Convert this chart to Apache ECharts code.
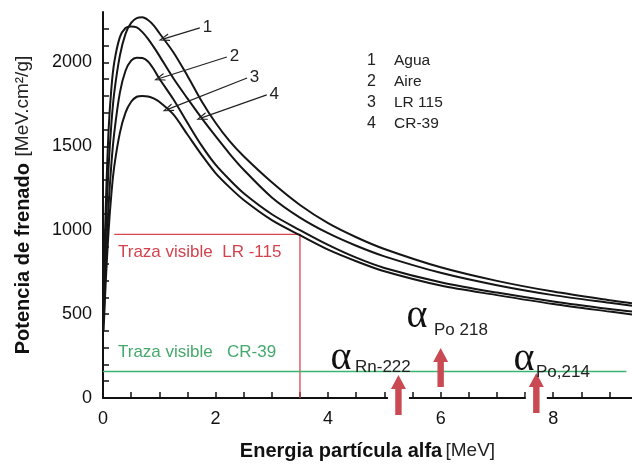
<!DOCTYPE html>
<html><head><meta charset="utf-8">
<script src="https://cdn.jsdelivr.net/npm/echarts@6/dist/echarts.min.js"></script>
<style>html,body{margin:0;padding:0;background:#fff}#c{width:632px;height:466px}</style>
</head><body><div id="c"></div>
<script>
// Energy of alpha particle [MeV]
const energy = [0.01,0.05,0.1,0.15,0.2,0.3,0.4,0.5,0.6,0.7,0.8,0.9,1.0,1.25,1.5,1.75,2.0,2.25,2.5,3.0,3.5,4.0,4.5,5.0,6.0,7.0,8.0,9.0,9.4];
// Stopping power [MeV.cm2/g]
const agua  = [550,1000,1380,1640,1820,2040,2170,2235,2264,2268,2252,2220,2175,2060,1920,1770,1640,1530,1440,1285,1150,1042,958,888,779,698,634,583,565];
const aire  = [450,800,1150,1400,1580,1820,1950,2010,2028,2026,2005,1960,1904,1780,1640,1505,1390,1300,1220,1095,1000,912,836,775,690,628,575,530,515];
const lr115 = [400,700,1000,1220,1380,1580,1700,1765,1795,1800,1797,1785,1765,1690,1570,1450,1340,1255,1180,1060,970,884,815,755,670,613,560,515,498];
const cr39  = [650,1150,1600,1850,2000,2150,2205,2214,2208,2180,2140,2092,2040,1905,1785,1669,1560,1455,1360,1195,1075,982,907,844,746,672,613,567,550];
const legendNames = ['Agua','Aire','LR 115','CR-39'];
const curves = [agua, aire, lr115, cr39];
// pointer arrows (from label to curve), data coords
const pointerFrom = [[1.72,2205],[2.20,2032],[2.56,1907],[2.91,1806]];
const pointerTo   = [[1.08,2140],[1.0,1904],[1.15,1720],[1.75,1669]];
// visible-track thresholds
const lr115Track = [[0.2,975],[3.5,975],[3.5,0]];
const cr39Track  = [[0,158],[9.3,158]];
// alpha emitters
const alphaEnergies = [5.25, 6.0, 7.7];
const alphaNames = ['Rn-222','Po 218','Po,214'];

const FONT = '"Liberation Sans", Arial, sans-serif';
const arrowSpan = [[17,-23],[-11,-50],[15,-25]];
const chevron = 'path://M0,10 L5,0 L10,10 L8.4,10 L5,2.8 L1.6,10 Z';

const chart = echarts.init(document.getElementById('c'), null, {renderer:'canvas'});
const series = curves.map((d,i)=>({
  name: legendNames[i], type:'line', data: energy.map((e,j)=>[e,d[j]]),
  smooth:0.3, symbol:'none', z:3,
  lineStyle:{color:'#151515', width:2}, itemStyle:{color:'#151515'},
  markLine:{silent:true, animation:false, symbol:['none', chevron], symbolSize:[8,11],
    lineStyle:{color:'#222', width:1.2, type:'solid'},
    label:{show:true, position:'start', formatter:String(i+1), fontSize:17, color:'#222', fontFamily:FONT, distance:3},
    data:[[{coord:pointerFrom[i]},{coord:pointerTo[i]}]]}
}));
series.push({type:'line', data:lr115Track, symbol:'none', z:2, lineStyle:{color:'#d64550', width:1.3}, silent:true});
series.push({type:'line', data:cr39Track, symbol:'none', z:2, lineStyle:{color:'#3cb371', width:1.3}, silent:true});
series.push({type:'custom', coordinateSystem:'cartesian2d', clip:false, silent:true, z:6,
  data: alphaEnergies.map(e=>[e,0]),
  renderItem:(params, api)=>{
    const p = api.coord([api.value(0), 0]);
    const sp = arrowSpan[params.dataIndex];
    const x=p[0], y0=p[1], yb=y0+sp[0], yt=y0+sp[1], hw=7.5, sw=3.2, hl=14;
    const children=[];
    if (yb>y0) children.push({type:'rect', shape:{x:x-10.5,y:y0-4,width:21,height:8}, style:{fill:'#fff'}});
    children.push({type:'polygon', shape:{points:[[x-sw,yb],[x-sw,yt+hl],[x-hw,yt+hl],[x,yt],[x+hw,yt+hl],[x+sw,yt+hl],[x+sw,yb]]}, style:{fill:'#c94a52'}});
    return {type:'group', children};
  }});

const alphaText = [[341,358],[417,316],[524,359]];
const subText = [[355,367],[434,330],[536,372]];
const graphic = [];
alphaNames.forEach((n,i)=>{
  graphic.push({type:'text', style:{text:'α', x:alphaText[i][0], y:alphaText[i][1], textAlign:'center', textVerticalAlign:'middle', font:'40px "Liberation Serif", "DejaVu Serif", serif', fill:'#111'}, z:10});
  graphic.push({type:'text', style:{text:n, x:subText[i][0], y:subText[i][1], textAlign:'left', textVerticalAlign:'middle', font:'17px '+FONT, fill:'#222'}, z:10});
});
graphic.push({type:'text', style:{text:'Traza visible  LR -115', x:118, y:252, textVerticalAlign:'middle', font:'17px '+FONT, fill:'#d2434e'}});
graphic.push({type:'text', style:{text:'Traza visible   CR-39', x:118, y:352, textVerticalAlign:'middle', font:'17px '+FONT, fill:'#45a96c'}});

chart.setOption({
  animation:false,
  backgroundColor:'#fff',
  grid:{left:103, right:0, top:12, bottom:68, containLabel:false},
  legend:{data:legendNames, orient:'vertical', left:357, top:53, itemWidth:0, itemHeight:0, itemGap:5, icon:'none', selectedMode:false,
    formatter:(name)=>'{n|'+(legendNames.indexOf(name)+1)+'}{t|'+name+'}',
    textStyle:{rich:{n:{fontSize:16, width:27, fontFamily:FONT, color:'#222', lineHeight:19}, t:{fontSize:15.5, fontFamily:FONT, color:'#222', lineHeight:19}}},
    padding:[0,5,0,5]},
  xAxis:{type:'value', min:0, max:9.4, interval:0.5,
    name:'{b|Energia partícula alfa} {n|[MeV]}', nameLocation:'middle', nameGap:43,
    nameTextStyle:{rich:{b:{fontSize:20, fontWeight:'bold', fontFamily:FONT, color:'#111'}, n:{fontSize:19, fontFamily:FONT, color:'#222'}}},
    axisLine:{show:true, onZero:false, lineStyle:{color:'#111', width:2}},
    axisTick:{show:true, inside:true, length:6, lineStyle:{color:'#111', width:1.5}},
    axisLabel:{fontSize:18, color:'#111', fontFamily:FONT, margin:12, showMaxLabel:false,
      formatter:(v)=> (Math.abs(v%2)<1e-9 ? String(v) : '')},
    splitLine:{show:false}},
  yAxis:{type:'value', min:0, max:2300, interval:100,
    name:'{b|Potencia de frenado}  {n|[MeV.cm²/g]}', nameLocation:'middle', nameGap:70,
    nameTextStyle:{rich:{b:{fontSize:20, fontWeight:'bold', fontFamily:FONT, color:'#111'}, n:{fontSize:19, fontFamily:FONT, color:'#222'}}},
    axisLine:{show:true, lineStyle:{color:'#111', width:2}},
    axisTick:{show:true, inside:true, length:6, lineStyle:{color:'#111', width:1.5}},
    axisLabel:{fontSize:18, color:'#111', fontFamily:FONT, margin:11, showMaxLabel:false,
      formatter:(v)=> (v%500===0 ? String(v) : '')},
    splitLine:{show:false}},
  graphic: graphic,
  series: series
});
</script></body></html>
